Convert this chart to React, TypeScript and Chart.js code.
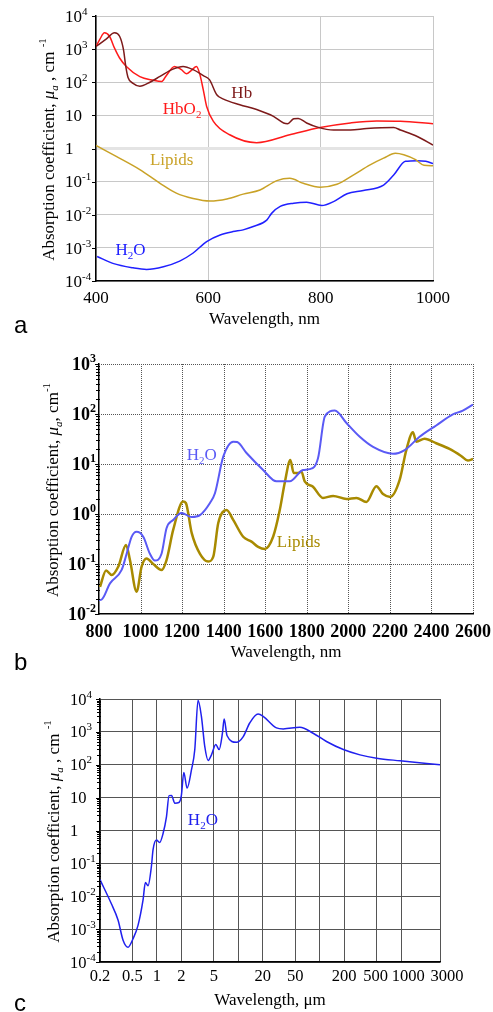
import React, { useEffect, useRef } from 'react';
import { Chart, registerables } from 'chart.js';

Chart.register(...registerables);

const SERIF = '"Liberation Serif", "Times New Roman", Times, serif';
const SANS = '"Liberation Sans", Arial, sans-serif';

// ---------------- Panel a (400-1000 nm) ----------------
const aXTicks = [400, 600, 800, 1000];
const aXLabels = ['400', '600', '800', '1000'];
const aYTicks = [1e-4, 1e-3, 1e-2, 1e-1, 1, 10, 1e2, 1e3, 1e4];
const aYLabels = [['10', '-4'], ['10', '-3'], ['10', '-2'], ['10', '-1'], ['1', ''], ['10', ''], ['10', '2'], ['10', '3'], ['10', '4']];

const aHbWavelength = [400, 418, 433, 442, 449, 453, 457, 466, 478, 496, 514, 537, 555, 573, 591, 602, 615, 627, 656, 686, 716, 734, 741, 752, 760, 775, 793, 823, 853, 882, 930, 942, 972, 1000];
const aHbValues = [1200, 2000, 3100, 2450, 950, 300, 140, 93, 76, 100, 150, 250, 300, 240, 158, 120, 42, 31, 21, 15, 9.3, 5.9, 5.6, 7.9, 8.1, 5.9, 4.5, 3.6, 3.6, 4.0, 4.3, 3.6, 2.3, 1.26];

const aHbO2Wavelength = [400, 407, 415, 424, 433, 442, 454, 478, 502, 517, 525, 540, 552, 561, 570, 579, 585, 591, 597, 609, 638, 686, 745, 799, 853, 900, 942, 1000];
const aHbO2Values = [1200, 2000, 3100, 2450, 1070, 540, 300, 148, 115, 105, 158, 300, 240, 182, 230, 300, 170, 59, 18.6, 6.6, 2.6, 1.5, 2.6, 4.3, 5.9, 6.8, 6.6, 5.6];

const aLipidsWavelength = [400, 436, 478, 514, 543, 573, 603, 633, 662, 692, 722, 745, 769, 799, 829, 858, 888, 912, 933, 948, 969, 984, 1000];
const aLipidsValues = [1.23, 0.575, 0.23, 0.089, 0.045, 0.031, 0.026, 0.030, 0.042, 0.056, 0.107, 0.126, 0.089, 0.068, 0.083, 0.158, 0.32, 0.51, 0.72, 0.65, 0.46, 0.31, 0.30];

const aWaterWavelength = [402, 430, 466, 490, 520, 549, 573, 597, 621, 644, 662, 680, 704, 713, 728, 752, 775, 802, 823, 847, 876, 912, 930, 951, 972, 987, 1000];
const aWaterValues = [0.00055, 0.00034, 0.00025, 0.000224, 0.00027, 0.0004, 0.0007, 0.00155, 0.00245, 0.0031, 0.0035, 0.0044, 0.0069, 0.0112, 0.0178, 0.0224, 0.024, 0.019, 0.025, 0.043, 0.054, 0.079, 0.158, 0.41, 0.43, 0.41, 0.35];

// ---------------- Panel b (800-2600 nm) ----------------
const bXTicks = [800, 1000, 1200, 1400, 1600, 1800, 2000, 2200, 2400, 2600];
const bXLabels = ['800', '1000', '1200', '1400', '1600', '1800', '2000', '2200', '2400', '2600'];
const bYTicks = [1e-2, 1e-1, 1, 10, 1e2, 1e3];
const bYLabels = [['10', '-2'], ['10', '-1'], ['10', '0'], ['10', '1'], ['10', '2'], ['10', '3']];

const bWaterWavelength = [800, 813, 853, 909, 933, 957, 981, 1013, 1045, 1069, 1101, 1125, 1157, 1197, 1246, 1286, 1334, 1358, 1398, 1446, 1465, 1510, 1590, 1654, 1718, 1782, 1814, 1854, 1887, 1935, 1991, 2055, 2119, 2215, 2271, 2343, 2423, 2503, 2551, 2600];
const bWaterValues = [0.019, 0.0195, 0.041, 0.076, 0.16, 0.35, 0.44, 0.35, 0.16, 0.117, 0.16, 0.52, 0.76, 1.05, 0.87, 0.95, 1.66, 2.6, 14, 28, 27.5, 16.6, 7.6, 4.5, 4.5, 7.6, 7.9, 13, 89, 117, 66, 35, 22, 16, 19, 35, 59, 98, 117, 155];

const bLipidsWavelength = [805, 834, 861, 893, 930, 949, 981, 1005, 1029, 1061, 1101, 1125, 1157, 1205, 1218, 1246, 1286, 1326, 1350, 1374, 1414, 1446, 1494, 1534, 1566, 1598, 1638, 1670, 1694, 1721, 1737, 1758, 1774, 1790, 1830, 1878, 1927, 1991, 2039, 2087, 2135, 2167, 2202, 2247, 2279, 2311, 2327, 2367, 2423, 2487, 2543, 2575, 2600];
const bLipidsValues = [0.035, 0.074, 0.060, 0.089, 0.24, 0.12, 0.028, 0.089, 0.129, 0.10, 0.076, 0.12, 0.48, 1.78, 1.66, 0.42, 0.16, 0.112, 0.14, 0.66, 1.2, 0.76, 0.35, 0.28, 0.22, 0.20, 0.35, 1.2, 4.2, 12, 6.6, 6.6, 7.1, 4.5, 3.5, 2.1, 2.3, 2.0, 2.1, 1.74, 3.6, 2.5, 2.2, 4.8, 19, 43, 28, 32, 26, 20, 14.5, 11.7, 12.6];

// ---------------- Panel c (0.2-3000 µm) ----------------
const cXTicks = [0.2, 0.5, 1, 2, 5, 10, 20, 50, 100, 200, 500, 1000, 3000];
const cXLabels = ['0.2', '0.5', '1', '2', '5', '', '20', '50', '', '200', '500', '1000', '3000'];
const cXLabelShift = [0, 0, 0, 0, 0, 0, 0, 0, 0, 0, -1, 7, 7];
const cYTicks = [1e-4, 1e-3, 1e-2, 1e-1, 1, 10, 1e2, 1e3, 1e4];
const cYLabels = [['10', '-4'], ['10', '-3'], ['10', '-2'], ['10', '-1'], ['1', ''], ['10', ''], ['10', '2'], ['10', '3'], ['10', '4']];

const cWaterWavelength = [0.2, 0.275, 0.333, 0.384, 0.442, 0.509, 0.586, 0.675, 0.722, 0.778, 0.855, 0.897, 0.986, 1.08, 1.19, 1.31, 1.41, 1.51, 1.66, 1.86, 2.0, 2.14, 2.35, 2.66, 2.92, 3.2, 3.52, 3.87, 4.26, 4.68, 5.29, 5.81, 6.38, 6.70, 7.28, 9.5, 11.5, 13.8, 17.5, 20.2, 29.4, 35.6, 57, 83, 121, 195, 312, 500, 968, 3000];
const cWaterValues = [0.032, 0.006, 0.0019, 0.00046, 0.00028, 0.00051, 0.0013, 0.0076, 0.026, 0.021, 0.079, 0.26, 0.51, 0.43, 0.81, 2.6, 11.5, 11.7, 6.8, 7.1, 12, 58, 19.5, 71, 290, 9100, 2950, 360, 135, 200, 410, 290, 910, 2450, 760, 480, 720, 1860, 3470, 2950, 1320, 1230, 1380, 910, 510, 290, 200, 158, 132, 100];

// ---------------- helpers ----------------
type Seg = { t: string; size: number; dy?: number; italic?: boolean; bold?: boolean; family?: string };

function segFont(s: Seg) {
  return `${s.italic ? 'italic ' : ''}${s.bold ? 'bold ' : ''}${s.size}px ${s.family || SERIF}`;
}

function drawRich(ctx: CanvasRenderingContext2D, segs: Seg[], x: number, y: number, align: string, color: string) {
  ctx.save();
  ctx.fillStyle = color;
  ctx.textBaseline = 'alphabetic';
  ctx.textAlign = 'left';
  const widths = segs.map((s) => {
    ctx.font = segFont(s);
    return ctx.measureText(s.t).width;
  });
  const total = widths.reduce((a, b) => a + b, 0);
  let cx = align === 'left' ? x : align === 'center' ? x - total / 2 : x - total;
  segs.forEach((s, i) => {
    ctx.font = segFont(s);
    ctx.fillText(s.t, cx, y + (s.dy || 0));
    cx += widths[i];
  });
  ctx.restore();
}

function power(base: string, exp: string, size: number, bold: boolean): Seg[] {
  const segs: Seg[] = [{ t: base, size, bold }];
  if (exp) segs.push({ t: exp, size: Math.round(size * 0.65), dy: -Math.round(size * 0.42), bold });
  return segs;
}

function pts(xs: number[], ys: number[]) {
  return xs.map((x, i) => ({ x, y: ys[i] }));
}

function line(label: string, xs: number[], ys: number[], color: string, width: number) {
  return {
    label,
    data: pts(xs, ys),
    borderColor: color,
    backgroundColor: color,
    borderWidth: width,
    pointRadius: 0,
    fill: false,
    cubicInterpolationMode: 'monotone',
  };
}

function makeConfig(p: any): any {
  const decor = {
    id: 'decor',
    beforeDatasetsDraw(chart: any) {
      if (!p.dottedGrid) return;
      const ctx: CanvasRenderingContext2D = chart.ctx;
      const xs = chart.scales.x;
      const ys = chart.scales.y;
      const area = chart.chartArea;
      ctx.save();
      ctx.fillStyle = p.gridColor;
      const l = Math.round(area.left);
      const r = Math.round(area.right);
      const t = Math.round(area.top);
      const b = Math.round(area.bottom);
      p.xTicks.forEach((v: number, i: number) => {
        if (i === 0) return;
        const px = Math.min(Math.round(xs.getPixelForValue(v)), r);
        for (let y = t; y < b; y += 2) ctx.fillRect(px, y, 1, 1);
      });
      p.yTicks.forEach((v: number, i: number) => {
        if (i === 0) return;
        const py = Math.round(ys.getPixelForValue(v));
        for (let x = l; x <= r; x += 2) ctx.fillRect(x, py, 1, 1);
      });
      ctx.restore();
    },
    afterDraw(chart: any) {
      const ctx: CanvasRenderingContext2D = chart.ctx;
      const xs = chart.scales.x;
      const ys = chart.scales.y;
      const area = chart.chartArea;
      ctx.save();
      ctx.strokeStyle = '#000';
      ctx.lineWidth = 1;
      ctx.beginPath();
      p.yTicks.forEach((v: number) => {
        const py = Math.round(ys.getPixelForValue(v)) + 0.5;
        ctx.moveTo(area.left - 4, py);
        ctx.lineTo(area.left, py);
      });
      if (p.minorTicks) {
        for (let e = Math.round(Math.log10(p.yMin)); e < Math.round(Math.log10(p.yMax)); e++) {
          for (let k = 2; k <= 9; k++) {
            const py = Math.round(ys.getPixelForValue(k * Math.pow(10, e))) + 0.5;
            ctx.moveTo(area.left - 3, py);
            ctx.lineTo(area.left + 1, py);
          }
        }
      }
      ctx.stroke();
      ctx.restore();
      p.yTicks.forEach((v: number, i: number) => {
        const py = ys.getPixelForValue(v);
        const [base, exp] = p.yLabels[i];
        drawRich(ctx, power(base, exp, p.yLabelSize, p.yLabelBold), p.yLabelX, py + p.yLabelSize * 0.34, p.yLabelAlign, '#000');
      });
      p.xTicks.forEach((v: number, i: number) => {
        const t = p.xLabels[i];
        if (!t) return;
        const px = xs.getPixelForValue(v) + ((p.xLabelShift && p.xLabelShift[i]) || 0);
        drawRich(ctx, [{ t, size: p.xLabelSize, bold: p.xLabelBold }], px, area.bottom + p.xLabelGap + p.xLabelSize * 0.34, 'center', '#000');
      });
      drawRich(ctx, p.xTitle, (area.left + area.right) / 2, area.bottom + p.xTitleGap + 5.5, 'center', '#000');
      ctx.save();
      ctx.translate(p.yTitleX, (area.top + area.bottom) / 2 + 1);
      ctx.rotate(-Math.PI / 2);
      drawRich(ctx, p.yTitle, 0, 0, 'center', '#000');
      ctx.restore();
      drawRich(ctx, [{ t: p.letter, size: 24, family: SANS }], 14, p.letterY, 'left', '#000');
      p.labels.forEach((l: any) => {
        drawRich(ctx, l.segs, xs.getPixelForValue(l.x), ys.getPixelForValue(l.y) + 5.8, 'left', l.color);
      });
    },
  };
  const gridOf = (fn: (v: number) => any, fallback: any) => (c: any) => (c && c.tick ? fn(c.tick.value) : fallback);
  return {
    type: 'line',
    data: { datasets: p.datasets },
    options: {
      responsive: false,
      maintainAspectRatio: false,
      animation: false,
      events: [],
      layout: { padding: p.padding, autoPadding: false },
      plugins: { legend: { display: false }, tooltip: { enabled: false }, title: { display: false } },
      scales: {
        x: {
          type: p.xType,
          position: 'bottom',
          min: p.xMin,
          max: p.xMax,
          afterBuildTicks: (s: any) => {
            s.ticks = p.xTicks.map((v: number) => ({ value: v }));
          },
          afterFit: (s: any) => {
            s.height = p.xHeight;
          },
          ticks: { display: false },
          grid: { display: !p.dottedGrid, color: p.gridColor, lineWidth: 1, drawTicks: false },
          border: { display: true, color: '#000', width: 1.5 },
        },
        y: {
          type: 'logarithmic',
          position: 'left',
          min: p.yMin,
          max: p.yMax,
          afterBuildTicks: (s: any) => {
            s.ticks = p.yTicks.map((v: number) => ({ value: v }));
          },
          afterFit: (s: any) => {
            s.width = p.yWidth;
          },
          ticks: { display: false },
          grid: {
            display: !p.dottedGrid,
            color: gridOf(p.yGridColor, p.gridColor),
            lineWidth: gridOf(p.yGridWidth, 1),
            drawTicks: false,
          },
          border: { display: true, color: '#000', width: 1.5 },
        },
      },
    },
    plugins: [decor],
  };
}

const yTitleSpaced: Seg[] = [
  { t: 'Absorption coefficient, ', size: 17 },
  { t: 'μ', size: 17, italic: true },
  { t: 'a', size: 11, italic: true, dy: 4 },
  { t: ' , cm ', size: 17 },
  { t: '-1', size: 11, dy: -8 },
];
const yTitleTight: Seg[] = [
  { t: 'Absorption coefficient, ', size: 17 },
  { t: 'μ', size: 17, italic: true },
  { t: 'a', size: 11, italic: true, dy: 4 },
  { t: ', cm', size: 17 },
  { t: '-1', size: 11, dy: -8 },
];
const h2o = (size: number): Seg[] => [
  { t: 'H', size },
  { t: '2', size: Math.round(size * 0.65), dy: 4 },
  { t: 'O', size },
];

const panelA = {
  padding: { top: 16, right: 60, left: 0, bottom: 0 },
  yWidth: 96,
  xHeight: 59,
  xType: 'linear',
  xMin: 400,
  xMax: 1000,
  xTicks: aXTicks,
  xLabels: aXLabels,
  xLabelSize: 17,
  xLabelBold: false,
  xLabelGap: 16,
  yMin: 1e-4,
  yMax: 1e4,
  yTicks: aYTicks,
  yLabels: aYLabels,
  yLabelAlign: 'left',
  yLabelX: 65,
  yLabelSize: 17,
  yLabelBold: false,
  gridColor: '#c8c8c8',
  yGridColor: (v: number) => (v === 1 ? '#e4e4e4' : '#c8c8c8'),
  yGridWidth: (v: number) => (v === 1 ? 3 : 1),
  dottedGrid: false,
  minorTicks: false,
  xTitle: [{ t: 'Wavelength, nm', size: 17 }],
  xTitleGap: 37,
  yTitle: yTitleSpaced,
  yTitleX: 54,
  letter: 'a',
  letterY: 333,
  labels: [
    { segs: [{ t: 'Hb', size: 17 }], x: 641, y: 49, color: '#7d1a1a' },
    { segs: [{ t: 'HbO', size: 17 }, { t: '2', size: 11, dy: 4 }], x: 519, y: 17, color: '#ff1a1a' },
    { segs: [{ t: 'Lipids', size: 17 }], x: 496, y: 0.46, color: '#c9a227' },
    { segs: h2o(17), x: 434.6, y: 0.00093, color: '#2020ff' },
  ],
  datasets: [
    line('Hb', aHbWavelength, aHbValues, '#7d1a1a', 1.5),
    line('HbO2', aHbO2Wavelength, aHbO2Values, '#ff1a1a', 1.5),
    line('Lipids', aLipidsWavelength, aLipidsValues, '#c9a227', 1.5),
    line('H2O', aWaterWavelength, aWaterValues, '#2020ff', 1.5),
  ],
};

const panelB = {
  padding: { top: 24, right: 20, left: 0, bottom: 0 },
  yWidth: 99,
  xHeight: 66,
  xType: 'linear',
  xMin: 800,
  xMax: 2600,
  xTicks: bXTicks,
  xLabels: bXLabels,
  xLabelSize: 18,
  xLabelBold: true,
  xLabelGap: 16.7,
  yMin: 1e-2,
  yMax: 1e3,
  yTicks: bYTicks,
  yLabels: bYLabels,
  yLabelAlign: 'right',
  yLabelX: 96,
  yLabelSize: 18,
  yLabelBold: true,
  gridColor: '#555',
  yGridColor: () => '#555',
  yGridWidth: () => 1,
  dottedGrid: true,
  minorTicks: true,
  xTitle: [{ t: 'Wavelength, nm', size: 17 }],
  xTitleGap: 37.7,
  yTitle: yTitleTight,
  yTitleX: 58,
  letter: 'b',
  letterY: 330,
  labels: [
    { segs: h2o(17), x: 1222, y: 16, color: '#5a5af5' },
    { segs: [{ t: 'Lipids', size: 17 }], x: 1656, y: 0.29, color: '#a88a00' },
  ],
  datasets: [
    line('H2O', bWaterWavelength, bWaterValues, '#5a5af5', 2),
    line('Lipids', bLipidsWavelength, bLipidsValues, '#a88a00', 2.5),
  ],
};

const panelC = {
  padding: { top: 19, right: 53, left: 0, bottom: 0 },
  yWidth: 100,
  xHeight: 50,
  xType: 'logarithmic',
  xMin: 0.2,
  xMax: 3000,
  xTicks: cXTicks,
  xLabels: cXLabels,
  xLabelShift: cXLabelShift,
  xLabelSize: 16.5,
  xLabelBold: false,
  xLabelGap: 13.3,
  yMin: 1e-4,
  yMax: 1e4,
  yTicks: cYTicks,
  yLabels: cYLabels,
  yLabelAlign: 'left',
  yLabelX: 70,
  yLabelSize: 16.5,
  yLabelBold: false,
  gridColor: '#555',
  yGridColor: () => '#555',
  yGridWidth: () => 1,
  dottedGrid: false,
  minorTicks: true,
  xTitle: [{ t: 'Wavelength, μm', size: 17 }],
  xTitleGap: 37.3,
  yTitle: yTitleSpaced,
  yTitleX: 59,
  letter: 'c',
  letterY: 331,
  labels: [{ segs: h2o(17), x: 2.4, y: 2.2, color: '#2020ee' }],
  datasets: [line('H2O', cWaterWavelength, cWaterValues, '#2020ee', 1.5)],
};

export default function App() {
  const refA = useRef<HTMLCanvasElement>(null);
  const refB = useRef<HTMLCanvasElement>(null);
  const refC = useRef<HTMLCanvasElement>(null);

  useEffect(() => {
    document.body.style.margin = '0';
    const charts = [
      new Chart(refA.current as HTMLCanvasElement, makeConfig(panelA)),
      new Chart(refB.current as HTMLCanvasElement, makeConfig(panelB)),
      new Chart(refC.current as HTMLCanvasElement, makeConfig(panelC)),
    ];
    return () => charts.forEach((c) => c.destroy());
  }, []);

  return (
    <div style={{ position: 'absolute', left: 0, top: 0, width: 493, height: 1012, background: '#fff', overflow: 'hidden' }}>
      <canvas ref={refA} width={493} height={340} style={{ position: 'absolute', left: 0, top: 0 }} />
      <canvas ref={refB} width={493} height={340} style={{ position: 'absolute', left: 0, top: 340 }} />
      <canvas ref={refC} width={493} height={332} style={{ position: 'absolute', left: 0, top: 680 }} />
    </div>
  );
}
